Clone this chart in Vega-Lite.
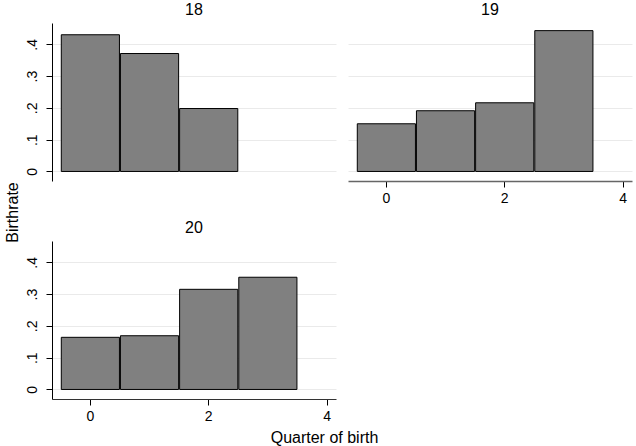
{
  "$schema": "https://vega.github.io/schema/vega-lite/v6.json",
  "padding": {"left": 3, "top": 2, "right": 2, "bottom": 2},
  "background": "white",
  "config": {
    "font": "Liberation Sans",
    "view": {"stroke": null},
    "title": {"fontSize": 16, "fontWeight": "normal", "color": "black", "offset": 5},
    "axis": {"labelFont": "Liberation Sans", "labelColor": "black", "titleColor": "black", "titleFontWeight": "normal", "gridColor": "#eaeaea", "gridWidth": 1}
  },
  "data": {"values": [
    {"age": 18, "quarter": 0, "birthrate": 0.430},
    {"age": 18, "quarter": 1, "birthrate": 0.371},
    {"age": 18, "quarter": 2, "birthrate": 0.198},
    {"age": 19, "quarter": 0, "birthrate": 0.150},
    {"age": 19, "quarter": 1, "birthrate": 0.191},
    {"age": 19, "quarter": 2, "birthrate": 0.216},
    {"age": 19, "quarter": 3, "birthrate": 0.443},
    {"age": 20, "quarter": 0, "birthrate": 0.164},
    {"age": 20, "quarter": 1, "birthrate": 0.169},
    {"age": 20, "quarter": 2, "birthrate": 0.315},
    {"age": 20, "quarter": 3, "birthrate": 0.353}
  ]},
  "columns": 2,
  "bounds": "flush",
  "spacing": {"column": 12, "row": 60},
  "concat": [
    {
      "title": {"text": "18"},
      "width": 284, "height": 158,
      "transform": [{"filter": "datum.age == 18"}],
      "mark": {"type": "bar", "fill": "#808080", "stroke": "black", "strokeWidth": 1, "opacity": 1},
      "encoding": {
        "x": {"field": "quarter", "type": "quantitative", "bin": {"step": 1, "extent": [-0.5, 3.5], "nice": false},
              "scale": {"domain": [-0.64, 4.16], "nice": false, "zero": false}, "axis": null},
        "y": {"field": "birthrate", "aggregate": "sum", "type": "quantitative",
              "scale": {"domain": [-0.03, 0.467], "nice": false, "zero": false},
              "axis": {"title": "Birthrate", "titleFontSize": 16, "titleY": 189, "titlePadding": 5, "values": [0, 0.1, 0.2, 0.3, 0.4], "grid": true,
                       "labelExpr": "datum.value == 0 ? '0' : replace(format(datum.value, '.1f'), '0.', '.')",
                       "labelAngle": -90, "labelAlign": "center", "labelBaseline": "bottom", "labelPadding": 7, "labelFontSize": 14,
                       "domainColor": "black", "domainWidth": 1, "tickColor": "black", "tickSize": 6}}
      }
    },
    {
      "title": {"text": "19"},
      "width": 284, "height": 158,
      "transform": [{"filter": "datum.age == 19"}],
      "mark": {"type": "bar", "fill": "#808080", "stroke": "black", "strokeWidth": 1, "opacity": 1},
      "encoding": {
        "x": {"field": "quarter", "type": "quantitative", "bin": {"step": 1, "extent": [-0.5, 3.5], "nice": false},
              "scale": {"domain": [-0.64, 4.16], "nice": false, "zero": false},
              "axis": {"title": null, "values": [0, 2, 4], "format": "d", "grid": false, "labelFontSize": 14, "labelPadding": 4, "labelFlush": false,
                       "domainColor": "#666666", "domainWidth": 1.5, "tickColor": "black", "tickSize": 6}},
        "y": {"field": "birthrate", "aggregate": "sum", "type": "quantitative",
              "scale": {"domain": [-0.03, 0.467], "nice": false, "zero": false},
              "axis": {"title": null, "values": [0, 0.1, 0.2, 0.3, 0.4], "grid": true, "labels": false, "ticks": false, "domain": false}}
      }
    },
    {
      "title": {"text": "20"},
      "width": 284, "height": 158,
      "transform": [{"filter": "datum.age == 20"}],
      "mark": {"type": "bar", "fill": "#808080", "stroke": "black", "strokeWidth": 1, "opacity": 1},
      "encoding": {
        "x": {"field": "quarter", "type": "quantitative", "bin": {"step": 1, "extent": [-0.5, 3.5], "nice": false},
              "scale": {"domain": [-0.64, 4.16], "nice": false, "zero": false},
              "axis": {"title": "Quarter of birth", "titleFontSize": 16, "titleX": 272, "titlePadding": 6, "values": [0, 2, 4], "format": "d", "grid": false, "labelFontSize": 14, "labelPadding": 4, "labelFlush": false,
                       "domainColor": "#333333", "domainWidth": 1.2, "tickColor": "black", "tickSize": 6}},
        "y": {"field": "birthrate", "aggregate": "sum", "type": "quantitative",
              "scale": {"domain": [-0.03, 0.467], "nice": false, "zero": false},
              "axis": {"title": null, "values": [0, 0.1, 0.2, 0.3, 0.4], "grid": true,
                       "labelExpr": "datum.value == 0 ? '0' : replace(format(datum.value, '.1f'), '0.', '.')",
                       "labelAngle": -90, "labelAlign": "center", "labelBaseline": "bottom", "labelPadding": 7, "labelFontSize": 14,
                       "domainColor": "black", "domainWidth": 1, "tickColor": "black", "tickSize": 6}}
      }
    }
  ]
}
